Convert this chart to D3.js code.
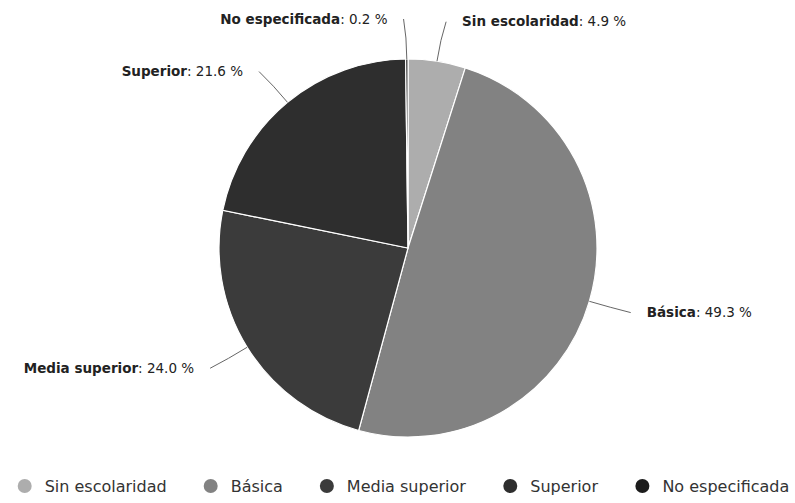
<!DOCTYPE html>
<html><head><meta charset="utf-8"/>
<title>Escolaridad</title>
<script src="https://d3js.org/d3.v7.min.js"></script>
<style>
  body { margin: 0; padding: 0; background: #fff; }
  svg { display: block; font-family: "DejaVu Sans", Verdana, sans-serif; }
  .lbl { font-size: 13.5px; fill: #222; }
  .leg { font-size: 16px; fill: #333; }
</style>
</head>
<body>
<div id="chart"></div>
<script>
// data
const categories = ["Sin escolaridad", "Básica", "Media superior", "Superior", "No especificada"];
const values = [4.9, 49.3, 24.0, 21.6, 0.2];
const colors = ["#adadad", "#828282", "#3b3b3b", "#2e2e2e", "#1c1c1c"];

const W = 795, H = 503;
const cx = 408, cy = 248, r = 189;
const dist = 40;

const svg = d3.select("#chart").append("svg")
    .attr("width", W).attr("height", H);

const rows = categories.map((c, i) => ({ name: c, value: values[i], color: colors[i] }));

const pie = d3.pie().sort(null).value(d => d.value);
const arcs = pie(rows);
const arc = d3.arc().innerRadius(0).outerRadius(r);

const g = svg.append("g").attr("transform", `translate(${cx},${cy})`);

g.selectAll("path.slice")
  .data(arcs)
  .enter().append("path")
    .attr("class", "slice")
    .attr("d", arc)
    .attr("fill", d => d.data.color)
    .attr("stroke", "#fff")
    .attr("stroke-width", 1.2);

// labels with soft connectors
const fmt = d3.format(".1f");
arcs.forEach(d => {
  const a = (d.startAngle + d.endAngle) / 2;
  const R2 = r + dist;
  const sx = Math.sin(a) * r, sy = -Math.cos(a) * r;
  const ly = -Math.cos(a) * R2;
  const side = Math.sin(a) >= 0 ? 1 : -1;
  const lx = side * Math.sqrt(Math.max(0, R2 * R2 - ly * ly)) + side * 3;
  const mx = Math.sin(a) * (r + dist * 0.55), my = -Math.cos(a) * (r + dist * 0.55);
  g.append("path")
    .attr("d", `M${sx},${sy} Q${mx},${my} ${lx},${ly}`)
    .attr("fill", "none")
    .attr("stroke", "#666")
    .attr("stroke-width", 1);

  const t = g.append("text")
    .attr("class", "lbl")
    .attr("x", lx + side * 16)
    .attr("y", ly)
    .attr("dy", "0.35em")
    .attr("text-anchor", side > 0 ? "start" : "end");
  t.append("tspan").attr("font-weight", "bold").text(d.data.name);
  t.append("tspan").text(": " + fmt(d.data.value) + " %");
});

// legend
const legY = 486, gap = 37, sym = 7, txtOff = 20;
const leg = svg.append("g");
const items = leg.selectAll("g.item")
  .data(rows)
  .enter().append("g").attr("class", "item");
items.append("circle").attr("r", sym).attr("fill", d => d.color);
items.append("text").attr("class", "leg")
  .attr("x", txtOff).attr("dy", "0.35em")
  .text(d => d.name);

const widths = [];
items.each(function () { widths.push(this.getBBox().width); });
const total = d3.sum(widths) + gap * (widths.length - 1);
let start = Math.min((W - total) / 2 + sym + 6, W - 4 - total + sym);
items.attr("transform", (d, i) => {
  const tx = start;
  start += widths[i] + gap;
  return `translate(${tx},${legY})`;
});
</script>
</body></html>
